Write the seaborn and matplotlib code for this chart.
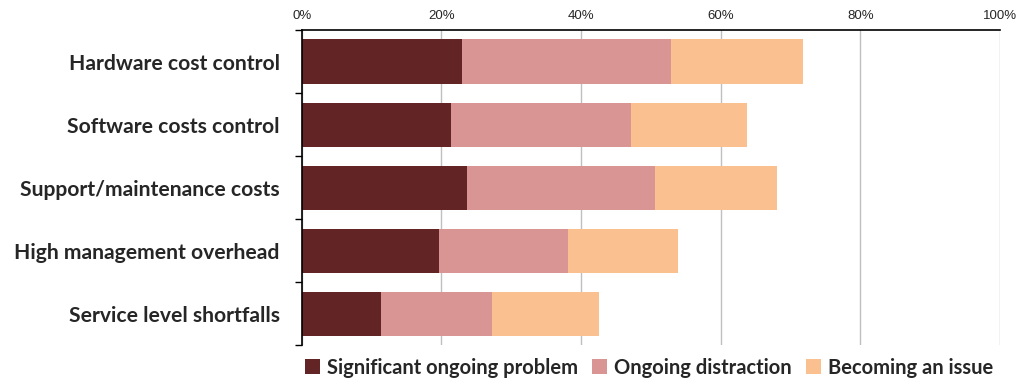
import matplotlib
matplotlib.use("Agg")
import matplotlib.pyplot as plt
import matplotlib.ticker as mticker
from matplotlib.patches import Patch
import numpy as np
import pandas as pd
import seaborn as sns

categories = [
    "Hardware cost control",
    "Software costs control",
    "Support/maintenance costs",
    "High management overhead",
    "Service level shortfalls",
]
series_names = ["Significant ongoing problem", "Ongoing distraction", "Becoming an issue"]
significant = [23.0, 21.3, 23.6, 19.6, 11.3]
distraction = [29.8, 25.8, 27.0, 18.5, 16.0]
becoming = [19.0, 16.6, 17.5, 15.8, 15.2]
colors = ["#632426", "#d99594", "#fac090"]

sns.set_style("white")
plt.rcParams["font.family"] = ["Lato", "DejaVu Sans"]

df = pd.DataFrame({
    "category": categories,
    "s1": significant,
    "s2": distraction,
    "s3": becoming,
})
df["c1"] = df["s1"]
df["c2"] = df["s1"] + df["s2"]
df["c3"] = df["c2"] + df["s3"]

fig = plt.figure(figsize=(10.3, 3.9), dpi=100)
ax = fig.add_axes([0.293, 0.115, 0.678, 0.808])

# stacked bars drawn back to front as cumulative totals
for col, color in zip(["c3", "c2", "c1"], colors[::-1]):
    sns.barplot(data=df, x=col, y="category", color=color, width=0.7,
                saturation=1, ax=ax, orient="h", edgecolor="none")

ax.set_xlim(0, 100)
ax.set_ylim(len(categories) - 0.5, -0.5)
ax.set_xlabel("")
ax.set_ylabel("")

ax.xaxis.set_major_locator(mticker.MultipleLocator(20))
ax.xaxis.set_major_formatter(mticker.FuncFormatter(lambda v, p: f"{v:.0f}%"))
ax.xaxis.tick_top()
ax.tick_params(axis="x", length=0, pad=6, labelsize=9.5)
for lab in ax.get_xticklabels():
    lab.set_family(["Liberation Sans", "DejaVu Sans"])
ax.grid(axis="x", color="#bfbfbf", linewidth=1)
ax.set_axisbelow(True)

ax.set_yticks(range(len(categories)))
ax.set_yticklabels(categories, fontsize=15.2, fontweight="bold")
ax.tick_params(axis="y", which="major", left=True, length=0, pad=16)
ax.set_yticks(np.arange(-0.5, len(categories), 1.0), minor=True)
ax.tick_params(axis="y", which="minor", left=True, length=5, width=1,
               color="black", direction="out")

for side in ["right", "bottom"]:
    ax.spines[side].set_visible(False)
for side in ["top", "left"]:
    ax.spines[side].set_color("black")
    ax.spines[side].set_linewidth(1.2)

handles = [Patch(facecolor=c, edgecolor="none") for c in colors]
fig.legend(handles, series_names, loc="lower center", bbox_to_anchor=(0.63, -0.015),
           ncol=3, frameon=False, handlelength=0.75, handleheight=0.75,
           handletextpad=0.35, columnspacing=0.7,
           prop={"weight": "bold", "size": 14.5})

fig.savefig("out.png", dpi=100)
